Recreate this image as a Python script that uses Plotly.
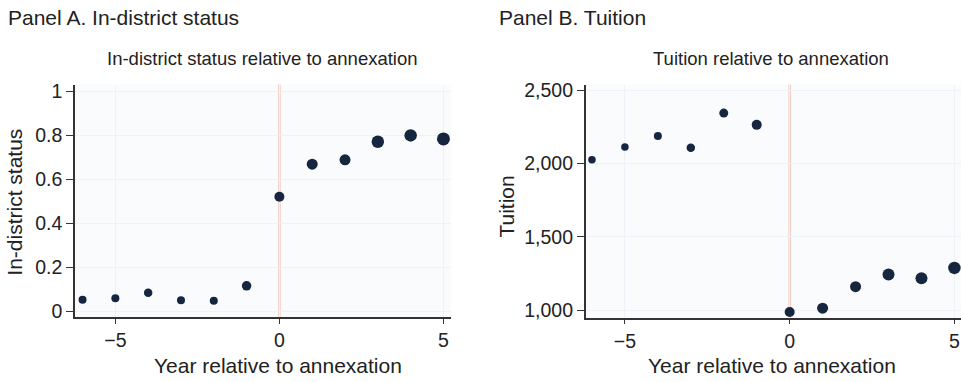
import plotly.graph_objects as go

# ---- data ----
years = [-6, -5, -4, -3, -2, -1, 0, 1, 2, 3, 4, 5]
in_district = [0.052, 0.059, 0.084, 0.050, 0.047, 0.115, 0.520, 0.668, 0.688, 0.770, 0.799, 0.783]
tuition = [2026, 2114, 2188, 2108, 2345, 2265, 987, 1013, 1160, 1244, 1217, 1288]
# relative weights (marker size)
weights_a = [8, 8, 8.5, 8, 8, 9.5, 10, 11, 11, 12.5, 12.5, 13]
weights_b = [7.5, 7.5, 8, 8.5, 9, 10, 10, 11, 11, 12, 12, 12.5]
annex_year = 0

x_ticks = [-5, 0, 5]
y_ticks_a = [0, 0.2, 0.4, 0.6, 0.8, 1]
y_tick_labels_a = ["0", "0.2", "0.4", "0.6", "0.8", "1"]
y_ticks_b = [1000, 1500, 2000, 2500]

panel_titles = ["Panel A. In-district status", "Panel B. Tuition"]
sub_titles = ["In-district status relative to annexation", "Tuition relative to annexation"]
x_title = "Year relative to annexation"
y_titles = ["In-district status", "Tuition"]

FONT = "Liberation Sans, Arial, Helvetica, sans-serif"
MARK = "#16263f"
AXC = "#333333"
TXT = "#222222"
VLINE = "#f2cbc2"
W, H = 961, 382

fig = go.Figure()
fig.add_trace(go.Scatter(x=years, y=in_district, mode="markers",
                         marker=dict(color=MARK, size=weights_a, opacity=1, line=dict(width=0)),
                         xaxis="x", yaxis="y", showlegend=False, cliponaxis=False))
fig.add_trace(go.Scatter(x=years, y=tuition, mode="markers",
                         marker=dict(color=MARK, size=weights_b, opacity=1, line=dict(width=0)),
                         xaxis="x2", yaxis="y2", showlegend=False, cliponaxis=False))

xa_dom = [75 / W, 451 / W]
xb_dom = [585.7 / W, 1.0]
ya_dom = [(H - 320.5) / H, (H - 81.7) / H]
yb_dom = [(H - 321) / H, (H - 81.7) / H]

common_x = dict(showline=True, linecolor=AXC, linewidth=1.5, ticks="outside", ticklen=5,
                tickcolor=AXC, tickwidth=1.2, tickvals=x_ticks, zeroline=False,
                showgrid=True, gridcolor="#eef2f8", gridwidth=1,
                tickfont=dict(family=FONT, size=19.5, color=TXT))
common_y = dict(showline=True, linecolor=AXC, linewidth=1.5, ticks="outside", ticklen=7,
                tickcolor=AXC, tickwidth=1.2, zeroline=False,
                showgrid=True, gridcolor="#eef2f8", gridwidth=1,
                tickfont=dict(family=FONT, size=19.5, color=TXT))

fig.update_layout(
    width=W, height=H,
    margin=dict(l=0, r=0, t=0, b=0),
    paper_bgcolor="white",
    plot_bgcolor="#f9fbfd",
    font=dict(family=FONT, color=TXT),
    xaxis=dict(domain=xa_dom, range=[-6.23, 5.23], anchor="y", **common_x),
    yaxis=dict(domain=ya_dom, range=[-0.027, 1.03], anchor="x",
               tickvals=y_ticks_a, ticktext=y_tick_labels_a, **common_y),
    xaxis2=dict(domain=xb_dom, range=[-6.19, 5.2], anchor="y2", **common_x),
    yaxis2=dict(domain=yb_dom, range=[949, 2540], anchor="x2",
                tickvals=y_ticks_b, tickformat=",", **common_y),
)

fig.add_shape(type="line", x0=annex_year, x1=annex_year, y0=0, y1=1,
              xref="x", yref="y domain", line=dict(color=VLINE, width=2.5), layer="below")
fig.add_shape(type="line", x0=annex_year, x1=annex_year, y0=0, y1=1,
              xref="x2", yref="y2 domain", line=dict(color=VLINE, width=2.5), layer="below")

ann = []
ann.append(dict(text=panel_titles[0], x=6 / W, y=1 - 13 / H, xanchor="left", yanchor="middle",
                font=dict(size=21, family=FONT, color=TXT)))
ann.append(dict(text=panel_titles[1], x=497 / W, y=1 - 13 / H, xanchor="left", yanchor="middle",
                font=dict(size=21, family=FONT, color=TXT)))
ann.append(dict(text=sub_titles[0], x=262 / W, y=1 - 55 / H, xanchor="center", yanchor="middle",
                font=dict(size=18.5, family=FONT, color=TXT)))
ann.append(dict(text=sub_titles[1], x=771 / W, y=1 - 55 / H, xanchor="center", yanchor="middle",
                font=dict(size=18.5, family=FONT, color=TXT)))
ann.append(dict(text=x_title, x=278 / W, y=1 - 370 / H, xanchor="center", yanchor="middle",
                font=dict(size=21, family=FONT, color=TXT)))
ann.append(dict(text=x_title, x=772 / W, y=1 - 370 / H, xanchor="center", yanchor="middle",
                font=dict(size=21, family=FONT, color=TXT)))
ann.append(dict(text=y_titles[0], x=15 / W, y=1 - 203 / H, xanchor="center", yanchor="middle",
                textangle=-90, font=dict(size=21, family=FONT, color=TXT)))
ann.append(dict(text=y_titles[1], x=507 / W, y=1 - 207 / H, xanchor="center", yanchor="middle",
                textangle=-90, font=dict(size=21, family=FONT, color=TXT)))
for a in ann:
    a.update(xref="paper", yref="paper", showarrow=False)
fig.update_layout(annotations=ann)

fig.write_html("out.html", config={"displayModeBar": False},
               post_script="document.body.style.margin='0';")
